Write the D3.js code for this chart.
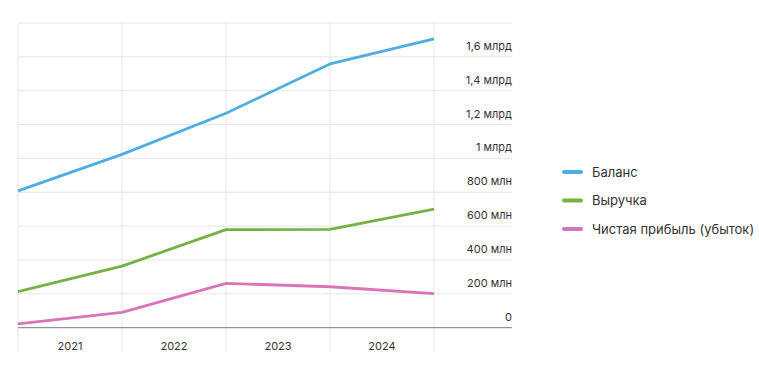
<!DOCTYPE html>
<html><head><meta charset="utf-8">
<script src="https://cdn.jsdelivr.net/npm/d3@7"></script>
<style>
body{margin:0;background:#fff;}
svg{display:block;font-family:Inter, "Noto Sans", sans-serif;}
</style></head>
<body><svg id="c" width="759" height="392"></svg>
<script>
const years = ["2021", "2022", "2023", "2024"];
const points = [0, 1, 2, 3, 4];
const balance = [808e6, 1024e6, 1267e6, 1558e6, 1706e6];
const revenue = [213e6, 364e6, 579e6, 581e6, 701e6];
const profit = [22e6, 91e6, 262e6, 242e6, 201e6];
const seriesNames = ["Баланс", "Выручка", "Чистая прибыль (убыток)"];
const seriesColors = ["#4eaee2", "#77b143", "#d874b9"];
const yTicks = [0, 200e6, 400e6, 600e6, 800e6, 1000e6, 1200e6, 1400e6, 1600e6, 1800e6];
const yTickLabels = ["0", "200 млн", "400 млн", "600 млн", "800 млн", "1 млрд", "1,2 млрд", "1,4 млрд", "1,6 млрд", ""];

const svg = d3.select("#c");
const L = 18, R = 434, T = 23, B = 327.7, GR = 512;
const x = d3.scaleLinear().domain([0, 4]).range([L, R]);
const xb = d3.scaleBand().domain(years).range([L, R]);
const y = d3.scaleLinear().domain([0, 1.8e9]).range([B, T]);

// horizontal grid
svg.append("g").selectAll("line").data(yTicks.slice(1)).join("line")
  .attr("x1", L).attr("x2", GR).attr("y1", d => y(d)).attr("y2", d => y(d))
  .attr("stroke", "#e5e5e5").attr("stroke-width", 1);
// vertical grid
svg.append("g").selectAll("line").data(points).join("line")
  .attr("x1", d => x(d)).attr("x2", d => x(d)).attr("y1", T).attr("y2", 352)
  .attr("stroke", "#e5e5e5").attr("stroke-width", 1);
// baseline
svg.append("line").attr("x1", L).attr("x2", GR).attr("y1", y(0)).attr("y2", y(0))
  .attr("stroke", "#7a7a7a").attr("stroke-width", 1);

// y labels
svg.append("g").selectAll("text").data(yTicks).join("text")
  .attr("x", GR).attr("y", d => y(d) - 7)
  .attr("text-anchor", "end").attr("font-size", 11).attr("fill", "#333")
  .text((d, i) => yTickLabels[i]);

// x labels
svg.append("g").selectAll("text").data(years).join("text")
  .attr("x", d => xb(d) + xb.bandwidth() / 2).attr("y", 349.5)
  .attr("text-anchor", "middle").attr("font-size", 11).attr("fill", "#333")
  .text(d => d);

const line = d3.line().x((d, i) => x(points[i])).y(d => y(d));
[balance, revenue, profit].forEach((s, k) => {
  svg.append("path").datum(s).attr("d", line).attr("fill", "none")
    .attr("stroke", seriesColors[k]).attr("stroke-width", 2.8)
    .attr("stroke-linejoin", "round");
});

// legend
const lg = svg.append("g");
seriesNames.forEach((n, i) => {
  const yy = 172 + i * 28.5;
  lg.append("line").attr("x1", 564).attr("x2", 581).attr("y1", yy).attr("y2", yy)
    .attr("stroke", seriesColors[i]).attr("stroke-width", 4).attr("stroke-linecap", "round");
  lg.append("text").attr("x", 592).attr("y", yy + 4.5).attr("font-size", 13)
    .attr("fill", "#333").text(n);
});
</script></body></html>
